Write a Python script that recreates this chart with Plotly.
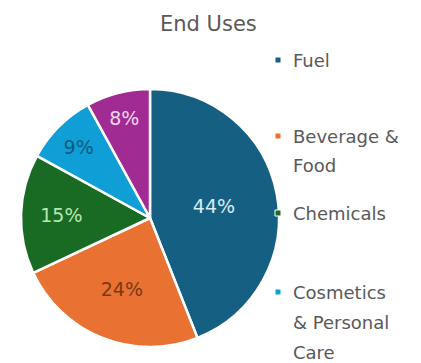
import plotly.graph_objects as go

categories = ["Fuel", "Beverage & Food", "Chemicals", "Cosmetics & Personal Care", "Other"]
values = [44, 24, 15, 9, 8]
colors = ["#156082", "#E97132", "#196B24", "#0F9ED5", "#A02B93"]
text_colors = ["#D8ECF5", "#7A3A12", "#B8E6B0", "#0B5A80", "#F3D6EF"]
legend_lines = [["Fuel"], ["Beverage &", "Food"], ["Chemicals"], ["Cosmetics", "& Personal", "Care"]]

W, H = 421, 363
FONT = "DejaVu Sans"
fig = go.Figure()
fig.add_trace(go.Pie(
    labels=categories, values=values, sort=False, direction="clockwise", rotation=0,
    marker=dict(colors=colors, line=dict(color="white", width=2.5)),
    texttemplate="%{percent:.0%}", textposition="inside", insidetextorientation="horizontal",
    textfont=dict(color=text_colors, size=19, family=FONT),
    domain=dict(x=[21 / W, 279 / W], y=[(H - 347) / H, (H - 89) / H]),
    showlegend=False, hoverinfo="label+percent",
))

annotations = [dict(text="End Uses", x=208 / W, y=1 - 24 / H, xref="paper", yref="paper",
                    showarrow=False, font=dict(size=21, color="#595959", family=FONT),
                    xanchor="center", yanchor="middle")]
shapes = []
start_y = [60, 136, 213, 292]
for i, lines in enumerate(legend_lines):
    y0 = start_y[i]
    shapes.append(dict(type="rect", xref="paper", yref="paper",
                       x0=275 / W, x1=281 / W, y0=1 - (y0 + 3) / H, y1=1 - (y0 - 3) / H,
                       fillcolor=colors[i], line=dict(color="white", width=1)))
    for j, ln in enumerate(lines):
        annotations.append(dict(text=ln, x=291 / W, y=1 - (y0 + 30 * j) / H, xref="paper", yref="paper",
                                showarrow=False, xanchor="left", yanchor="middle",
                                font=dict(size=18, color="#595959", family=FONT)))

fig.update_layout(width=W, height=H, margin=dict(l=0, r=0, t=0, b=0),
                  paper_bgcolor="white", plot_bgcolor="white",
                  annotations=annotations, shapes=shapes)
fig.write_html("out.html")
